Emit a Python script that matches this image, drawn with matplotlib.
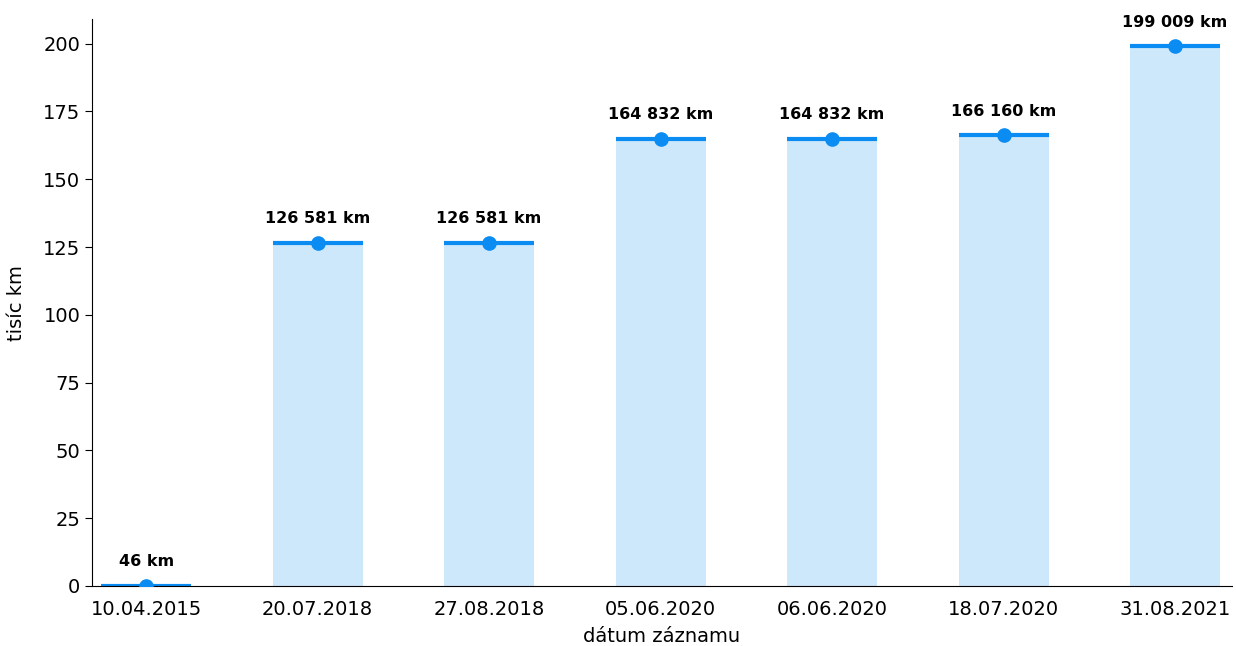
import numpy as np
import matplotlib.pyplot as plt

dates = ['10.04.2015', '20.07.2018', '27.08.2018', '05.06.2020',
         '06.06.2020', '18.07.2020', '31.08.2021']
km = [46, 126581, 126581, 164832, 164832, 166160, 199009]
labels = ['46 km', '126 581 km', '126 581 km', '164 832 km',
          '164 832 km', '166 160 km', '199 009 km']

vals = np.array(km) / 1000
x = np.arange(len(dates))
w = 0.525

fig, ax = plt.subplots(figsize=(12.36, 6.46), dpi=100)
fig.subplots_adjust(left=0.0745, right=0.9965, bottom=0.093, top=0.97)

ax.bar(x, vals, width=w, color='#cde7fb', zorder=1)
ax.hlines(vals, x - w / 2, x + w / 2, color='#0a8cf3', linewidth=3, zorder=2)
ax.plot(x, vals, 'o', color='#0a8cf3', markersize=9.5, zorder=3)

for xi, v, lab in zip(x, vals, labels):
    ax.annotate(lab, (xi, v), xytext=(0, 12), textcoords='offset points',
                ha='center', va='bottom', fontsize=11.5, fontweight='bold')

ax.set_xticks(x)
ax.set_xticklabels(dates, fontsize=14)
ax.tick_params(axis='y', labelsize=14, length=5)
ax.tick_params(axis='x', length=0, pad=10)
ax.set_xlim(-0.315, 6.33)
ax.set_ylim(0, vals.max() * 1.05)
ax.set_yticks(np.arange(0, 201, 25))
ax.set_xlabel('dátum záznamu', fontsize=14, labelpad=6)
ax.set_ylabel('tisíc km', fontsize=14, labelpad=12)
ax.spines['top'].set_visible(False)
ax.spines['right'].set_visible(False)

fig.savefig('out.png', dpi=100)
